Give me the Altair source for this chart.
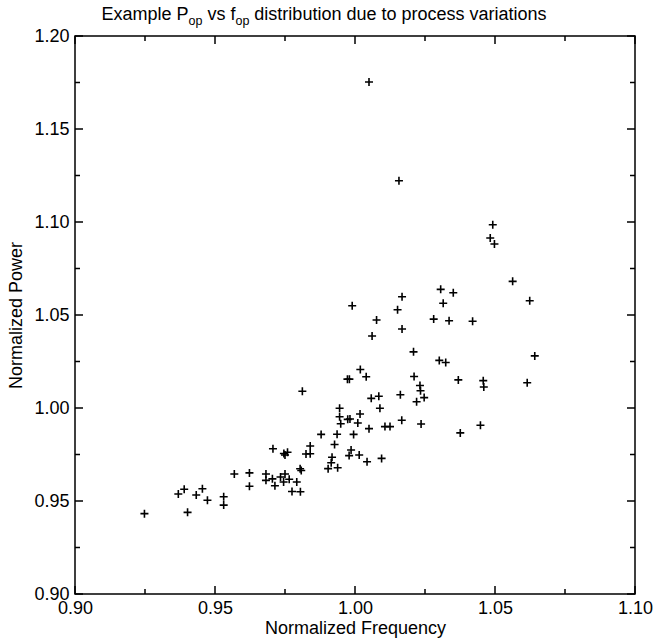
import altair as alt
import pandas as pd

# ---- data ----
freq = [0.9248, 0.9369, 0.9390, 0.9402, 0.9433, 0.9455, 0.9473, 0.9531, 0.9531, 0.9569,
        0.9623, 0.9623, 0.9682, 0.9682, 0.9705, 0.9714, 0.9734, 0.9750, 0.9745, 0.9765,
        0.9792, 0.9775, 0.9805, 0.9707, 0.9746, 0.9759, 0.9750, 0.9804, 0.9808, 0.9825,
        0.9840, 0.9840, 0.9812, 0.9879, 0.9936, 0.9995, 0.9927, 0.9918, 0.9915, 0.9904,
        0.9938, 0.9986, 0.9979, 1.0015, 1.0043, 1.0095, 0.9945, 0.9945, 0.9974, 0.9982,
        1.0018, 0.9949, 1.0010, 1.0050, 1.0107, 1.0125, 1.0089, 1.0058, 1.0085, 1.0162,
        1.0167, 1.0236, 0.9973, 0.9980, 1.0040, 1.0019, 1.0211, 1.0232, 1.0234, 1.0247,
        1.0220, 1.0209, 1.0301, 1.0324, 0.9990, 1.0077, 1.0061, 1.0152, 1.0168, 1.0168,
        1.0281, 1.0306, 1.0315, 1.0336, 1.0351, 1.0420, 1.0369, 1.0376, 1.0448, 1.0458,
        1.0460, 1.0492, 1.0483, 1.0498, 1.0563, 1.0624, 1.0615, 1.0642, 1.0050, 1.0157]
power = [0.9432, 0.9538, 0.9563, 0.9439, 0.9532, 0.9566, 0.9504, 0.9523, 0.9478, 0.9645,
         0.9651, 0.9579, 0.9645, 0.9611, 0.9619, 0.9582, 0.9629, 0.9645, 0.9602, 0.9617,
         0.9602, 0.9551, 0.9550, 0.9781, 0.9755, 0.9762, 0.9747, 0.9673, 0.9664, 0.9753,
         0.9754, 0.9796, 1.0090, 0.9858, 0.9859, 0.9858, 0.9804, 0.9735, 0.9706, 0.9674,
         0.9679, 0.9774, 0.9744, 0.9747, 0.9711, 0.9729, 0.9999, 0.9953, 0.9939, 0.9941,
         0.9968, 0.9915, 0.9919, 0.9889, 0.9900, 0.9900, 0.9999, 1.0052, 1.0063, 1.0071,
         0.9934, 0.9914, 1.0155, 1.0155, 1.0168, 1.0207, 1.0169, 1.0121, 1.0093, 1.0056,
         1.0034, 1.0302, 1.0256, 1.0245, 1.0550, 1.0473, 1.0387, 1.0528, 1.0598, 1.0425,
         1.0478, 1.0638, 1.0563, 1.0469, 1.0620, 1.0466, 1.0151, 0.9866, 0.9907, 1.0147,
         1.0113, 1.0985, 1.0914, 1.0882, 1.0681, 1.0577, 1.0136, 1.0280, 1.1753, 1.1222]

x_major = [0.90, 0.95, 1.00, 1.05, 1.10]
x_minor = [0.925, 0.975, 1.025, 1.075]
y_major = [0.90, 0.95, 1.00, 1.05, 1.10, 1.15, 1.20]
y_minor = [0.925, 0.975, 1.025, 1.075, 1.125, 1.175]

x_title = "Normalized Frequency"
y_title = "Normalized Power"
title_parts = ["Example P", "op", "vs f", "op", "distribution due to process variations"]

# ---- layout / style ----
W, H = 560, 558
FONT = "Liberation Sans"
FS = 18
SUB = 12.5
MAJ, MIN = 8, 5

xscale = alt.Scale(domain=[0.9, 1.1], nice=False, zero=False)
yscale = alt.Scale(domain=[0.9, 1.2], nice=False, zero=False)
axis_common = dict(format=".2f", ticks=False, domain=False, grid=False,
                   labelFont=FONT, labelFontSize=FS, labelColor="black",
                   labelFlush=False, labelOverlap=False, labelBound=False,
                   titleFont=FONT, titleFontSize=FS, titleFontWeight="normal",
                   titleColor="black")
xaxis = alt.Axis(values=x_major, title=x_title, labelPadding=5, titlePadding=2, **axis_common)
yaxis = alt.Axis(values=y_major, title=y_title, labelPadding=6, titlePadding=8, **axis_common)

df = pd.DataFrame({"freq": freq, "power": power})

plus = "M-1,0L1,0M0,-1L0,1"
points = alt.Chart(df).mark_point(shape=plus, filled=False, stroke="black",
                                  strokeWidth=1.6, size=64, opacity=1).encode(
    x=alt.X("freq:Q", scale=xscale, axis=xaxis),
    y=alt.Y("power:Q", scale=yscale, axis=yaxis),
)


def xticks(vals, length, top):
    d = pd.DataFrame({"t": vals})
    return alt.Chart(d).mark_rule(color="black", strokeWidth=1.5).encode(
        x=alt.X("t:Q", scale=xscale, axis=xaxis),
        y=alt.value(0 if top else H),
        y2=alt.value(length if top else H - length),
    )


def yticks(vals, length, right):
    d = pd.DataFrame({"t": vals})
    return alt.Chart(d).mark_rule(color="black", strokeWidth=1.5).encode(
        y=alt.Y("t:Q", scale=yscale, axis=yaxis),
        x=alt.value(W if right else 0),
        x2=alt.value(W - length if right else length),
    )


# title made of pieces so that the subscripts can be drawn
AW = {"E": 667, "x": 500, "a": 556, "m": 833, "p": 556, "l": 222, "e": 556, " ": 278,
      "P": 667, "o": 556, "v": 500, "s": 500, "f": 278, "d": 556, "i": 222, "t": 278,
      "r": 333, "b": 556, "u": 556, "n": 556, "c": 500}


def tw(s, size):
    return sum(AW.get(ch, 556) for ch in s) * size / 1000.0


sizes = [FS, SUB, FS, SUB, FS]
sp = tw(" ", FS)
widths = [tw(s, z) for s, z in zip(title_parts, sizes)]
total = sum(widths) + 2 * sp
center = 249
x0 = center - total / 2
starts = []
cur = x0
for i, w in enumerate(widths):
    starts.append(cur)
    cur += w
    if i in (1, 3):
        cur += sp
title_layers = []
for i, (s, z, xs) in enumerate(zip(title_parts, sizes, starts)):
    sub = z == SUB
    t = alt.Chart(pd.DataFrame({"s": [s]})).mark_text(
        align="left", baseline="alphabetic", font=FONT, fontSize=z, color="black"
    ).encode(text="s:N", x=alt.value(xs), y=alt.value(-16 + (5 if sub else 0)))
    title_layers.append(t)

chart = alt.layer(
    points,
    xticks(x_major, MAJ, False), xticks(x_minor, MIN, False),
    xticks(x_major, MAJ, True), xticks(x_minor, MIN, True),
    yticks(y_major, MAJ, False), yticks(y_minor, MIN, False),
    yticks(y_major, MAJ, True), yticks(y_minor, MIN, True),
    *title_layers,
).properties(
    width=W, height=H,
    autosize=alt.AutoSizeParams(type="none"),
    padding={"left": 75, "top": 36, "right": 18, "bottom": 49},
    background="white",
).configure_view(stroke="black", strokeWidth=1.5)

chart.save("out.html", embed_options={"renderer": "svg", "actions": False})
